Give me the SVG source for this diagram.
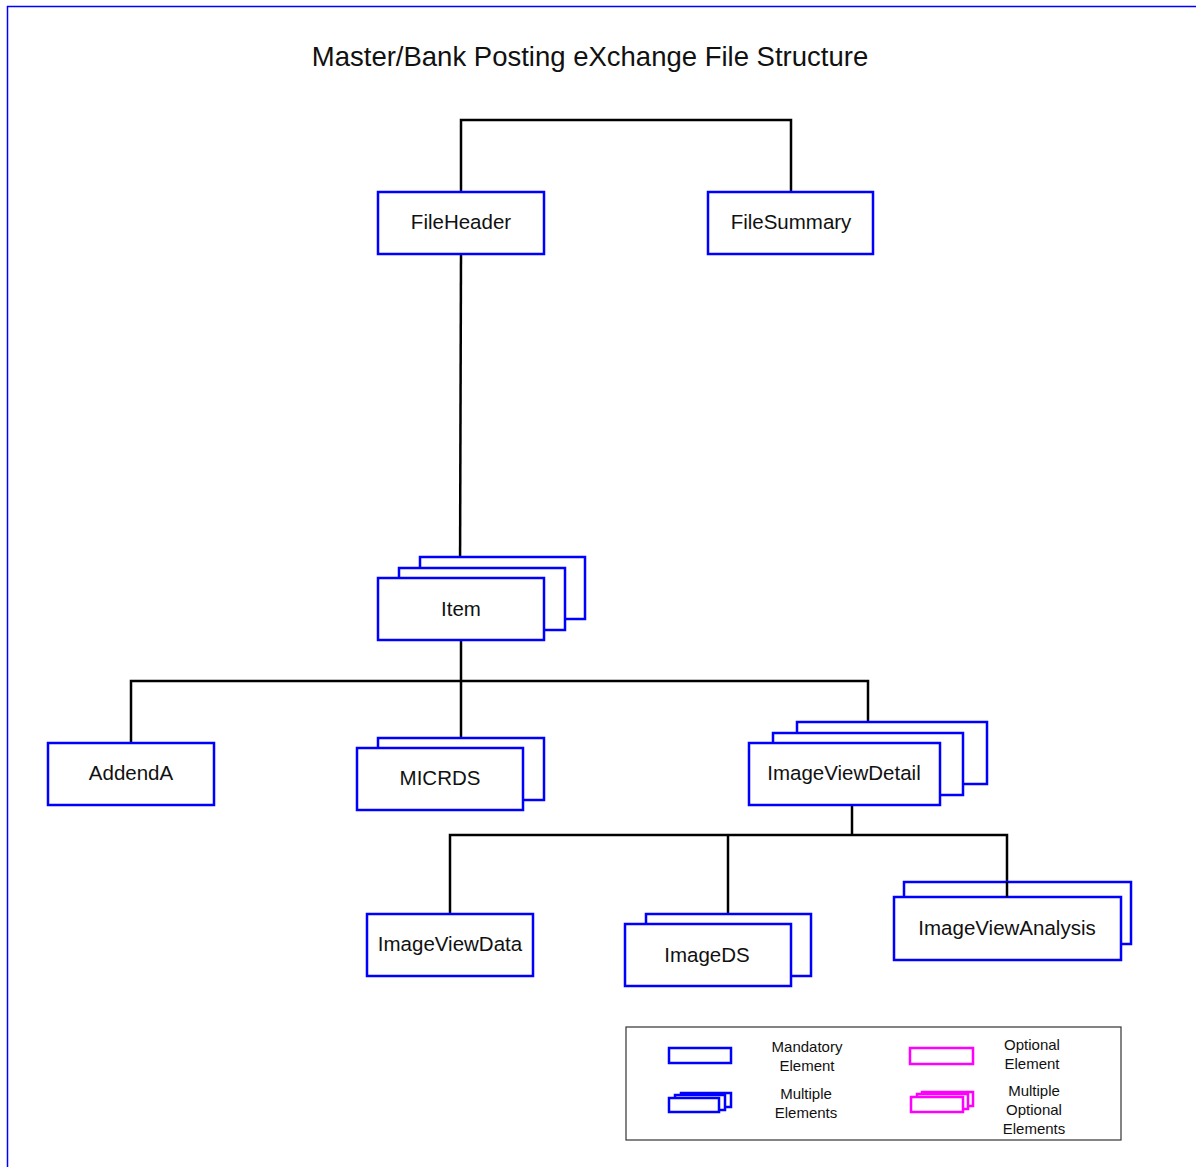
<svg xmlns="http://www.w3.org/2000/svg" width="1196" height="1167" viewBox="0 0 1196 1167">
<style>
.n{fill:#fff;stroke:#0000ff;stroke-width:2.5}
.o{fill:#fff;stroke:#ff00ff;stroke-width:2.5}
.c{fill:none;stroke:#000;stroke-width:2.5}
.t{font-family:"Liberation Sans",Arial,sans-serif;font-size:20.5px;fill:#111;text-anchor:middle}
.l{font-family:"Liberation Sans",Arial,sans-serif;font-size:15px;fill:#111;text-anchor:middle}
</style>
<rect width="1196" height="1167" fill="#fff"/>
<path d="M7.5 1167 V6.5 H1196" fill="none" stroke="#0000ff" stroke-width="1.5"/>
<text x="590" y="66" font-family="Liberation Sans, Arial, sans-serif" font-size="27.5" fill="#111" text-anchor="middle">Master/Bank Posting eXchange File Structure</text>
<g id="connectors">
<path class="c" d="M461 192 V120 H791 V192"/>
<path class="c" d="M461 254 L460 578"/>
<path class="c" d="M461 640 V681"/>
<path class="c" d="M131 743 V681 H868 V722"/>
<path class="c" d="M461 681 V738"/>
<path class="c" d="M852 805 V835"/>
<path class="c" d="M450 914 V835 H1007 V897"/>
<path class="c" d="M728 835 V914"/>
</g>
<g id="FileHeader"><rect class="n" x="378" y="192" width="166" height="62"/><text class="t" x="461" y="229">FileHeader</text></g>
<g id="FileSummary"><rect class="n" x="708" y="192" width="165" height="62"/><text class="t" x="791" y="229">FileSummary</text></g>
<g id="Item">
<rect class="n" x="420" y="557" width="165" height="62"/>
<rect class="n" x="399" y="568" width="166" height="62"/>
<rect class="n" x="378" y="578" width="166" height="62"/>
<text class="t" x="461" y="616">Item</text></g>
<g id="AddendA"><rect class="n" x="48" y="743" width="166" height="62"/><text class="t" x="131" y="780">AddendA</text></g>
<g id="MICRDS">
<rect class="n" x="378" y="738" width="166" height="62"/>
<rect class="n" x="357" y="748" width="166" height="62"/>
<text class="t" x="440" y="785">MICRDS</text></g>
<g id="ImageViewDetail">
<rect class="n" x="797" y="722" width="190" height="62"/>
<rect class="n" x="773" y="733" width="190" height="62"/>
<rect class="n" x="749" y="743" width="191" height="62"/>
<text class="t" x="844" y="780">ImageViewDetail</text></g>
<g id="ImageViewData"><rect class="n" x="367" y="914" width="166" height="62"/><text class="t" x="450" y="951">ImageViewData</text></g>
<g id="ImageDS">
<rect class="n" x="646" y="914" width="165" height="62"/>
<rect class="n" x="625" y="924" width="166" height="62"/>
<text class="t" x="707" y="962">ImageDS</text></g>
<g id="ImageViewAnalysis">
<rect class="n" x="904" y="882" width="227" height="62"/>
<rect class="n" x="894" y="897" width="227" height="63"/>
<line class="c" x1="1007" y1="882" x2="1007" y2="897"/>
<text class="t" x="1007" y="935">ImageViewAnalysis</text></g>
<g id="legend">
<rect x="626" y="1027" width="495" height="113" fill="#fff" stroke="#333" stroke-width="1.2"/>
<rect class="n" x="669" y="1048" width="62" height="15"/>
<rect class="n" x="681" y="1093" width="50" height="14"/>
<rect class="n" x="675" y="1095" width="50" height="15"/>
<rect class="n" x="669" y="1098" width="50" height="14"/>
<rect class="o" x="910" y="1048" width="63" height="16"/>
<rect class="o" x="922" y="1092" width="51" height="14"/>
<rect class="o" x="917" y="1094" width="51" height="15"/>
<rect class="o" x="911" y="1097" width="52" height="15"/>
<text class="l" x="807" y="1052">Mandatory</text>
<text class="l" x="807" y="1071">Element</text>
<text class="l" x="806" y="1099">Multiple</text>
<text class="l" x="806" y="1118">Elements</text>
<text class="l" x="1032" y="1050">Optional</text>
<text class="l" x="1032" y="1069">Element</text>
<text class="l" x="1034" y="1096">Multiple</text>
<text class="l" x="1034" y="1115">Optional</text>
<text class="l" x="1034" y="1134">Elements</text>
</g>
</svg>
